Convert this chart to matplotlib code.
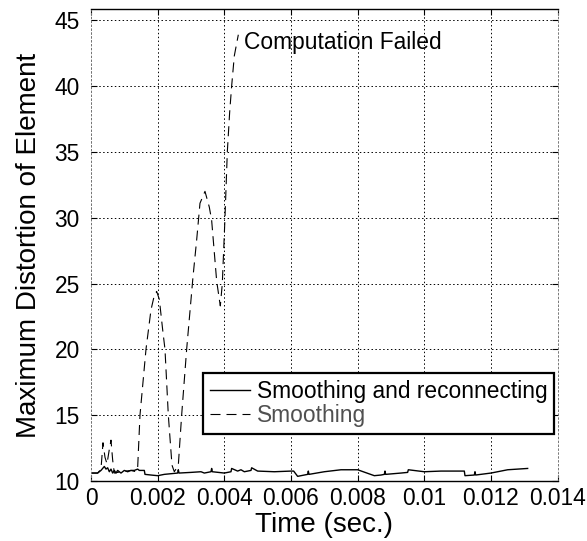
import matplotlib.pyplot as plt

plt.rcParams['font.family'] = ['Liberation Sans', 'DejaVu Sans']

# "Smoothing" (dashed) - computation fails near t = 0.0044
t_smooth = [0, 0.0002, 0.0003, 0.00036, 0.00042, 0.00048, 0.00055, 0.0006, 0.00065, 0.0007,
            0.0009, 0.0012, 0.00135, 0.0014, 0.00147, 0.00165, 0.0018, 0.0019, 0.00197, 0.00205,
            0.00215, 0.00222, 0.00232, 0.00243, 0.0025, 0.00262, 0.00272, 0.00287, 0.00306,
            0.00317, 0.00327, 0.00342, 0.00355, 0.00362, 0.00377, 0.00385, 0.00388, 0.00394,
            0.00402, 0.00409, 0.00416, 0.00422, 0.0043, 0.00442]
d_smooth = [10.6, 10.6, 10.9, 12.9, 11.8, 11.3, 12.4, 13.1, 11.6, 10.6,
            10.7, 10.8, 10.7, 11.0, 15.0, 20.0, 23.0, 24.1, 24.4, 23.8,
            21.5, 20.0, 15.0, 11.2, 10.7, 11.2, 15.0, 20.0, 25.5,
            28.3, 31.1, 32.0, 30.8, 29.8, 25.2, 23.8, 23.3, 25.0,
            30.0, 35.0, 38.0, 40.0, 42.3, 43.9]

# "Smoothing and reconnecting" (solid)
t_recon = [0, 0.0002, 0.0003, 0.0004, 0.00045, 0.0005, 0.00055, 0.0006, 0.00065, 0.0007,
           0.00075, 0.0008, 0.0009, 0.001, 0.0011, 0.0012, 0.0013, 0.0014, 0.00145, 0.0016,
           0.00162, 0.0018, 0.002, 0.0022, 0.0024, 0.0026, 0.00262, 0.00264, 0.003, 0.0033,
           0.0034, 0.0036, 0.00362, 0.00364, 0.004, 0.0042, 0.00422, 0.0044, 0.0045, 0.0046,
           0.0048, 0.00482, 0.005, 0.0055, 0.006, 0.00608, 0.0062, 0.0065, 0.00652, 0.00654,
           0.007, 0.0075, 0.008, 0.0085, 0.0087, 0.0088, 0.00882, 0.00884, 0.0093, 0.0095,
           0.00952, 0.01, 0.0105, 0.0112, 0.01122, 0.0115, 0.01152, 0.01154, 0.012, 0.0125,
           0.0128, 0.0131]
d_recon = [10.6, 10.6, 10.8, 11.1, 10.9, 11.0, 10.7, 10.9, 10.6, 10.8,
           10.6, 10.8, 10.6, 10.8, 10.7, 10.8, 10.8, 10.9, 10.8, 10.8,
           10.5, 10.45, 10.4, 10.5, 10.55, 10.6, 10.85, 10.6, 10.65, 10.7,
           10.6, 10.7, 10.95, 10.7, 10.6, 10.7, 10.95, 10.75, 10.85, 10.7,
           10.8, 11.0, 10.75, 10.7, 10.75, 10.75, 10.35, 10.5, 10.75, 10.5,
           10.7, 10.85, 10.85, 10.4, 10.45, 10.5, 10.75, 10.5, 10.6, 10.65,
           10.85, 10.7, 10.75, 10.75, 10.4, 10.45, 10.7, 10.45, 10.6, 10.85,
           10.9, 10.95]

x_ticks = [0, 0.002, 0.004, 0.006, 0.008, 0.01, 0.012, 0.014]
x_tick_labels = ['0', '0.002', '0.004', '0.006', '0.008', '0.01', '0.012', '0.014']
y_ticks = [10, 15, 20, 25, 30, 35, 40, 45]

fig = plt.figure(figsize=(5.87, 5.41), dpi=100)
ax = fig.add_axes([0.155, 0.111, 0.795, 0.872])

ax.plot(t_recon, d_recon, color='black', lw=1.0, label='Smoothing and reconnecting')
ax.plot(t_smooth, d_smooth, color='black', lw=0.8, dashes=(9, 5.4), label='Smoothing')

ax.text(0.0046, 43.3, 'Computation Failed', fontsize=16.4, va='center', ha='left')

ax.set_xlim(0, 0.014)
ax.set_ylim(10, 45.84)
ax.set_xticks(x_ticks)
ax.set_xticklabels(x_tick_labels)
ax.set_yticks(y_ticks)
ax.tick_params(direction='in', length=4.5, width=0.8, labelsize=16.4,
               top=True, right=True, pad=4)
ax.tick_params(axis='y', pad=8)

ax.grid(True, color='black', lw=0.7, linestyle=(0, (1.5, 2.5)))
for side in ['top', 'bottom']:
    ax.spines[side].set_linewidth(1.0)
for side in ['left', 'right']:
    ax.spines[side].set_color('#777777')
    ax.spines[side].set_linewidth(0.7)
    ax.spines[side].set_linestyle((0, (1.5, 2.5)))

ax.set_xlabel('Time (sec.)', fontsize=20, labelpad=2)
ax.set_ylabel('Maximum Distortion of Element', fontsize=20, labelpad=9)

leg = ax.legend(loc='upper left', bbox_to_anchor=(0.24, 0.229), borderaxespad=0,
                fontsize=16.4, frameon=True, fancybox=False, edgecolor='black',
                framealpha=1, handlelength=1.75, handletextpad=0.3,
                borderpad=0.3, labelspacing=0.05)
leg.get_frame().set_linewidth(1.6)
leg.get_texts()[1].set_color('#505050')

fig.savefig('out.png', dpi=100)
